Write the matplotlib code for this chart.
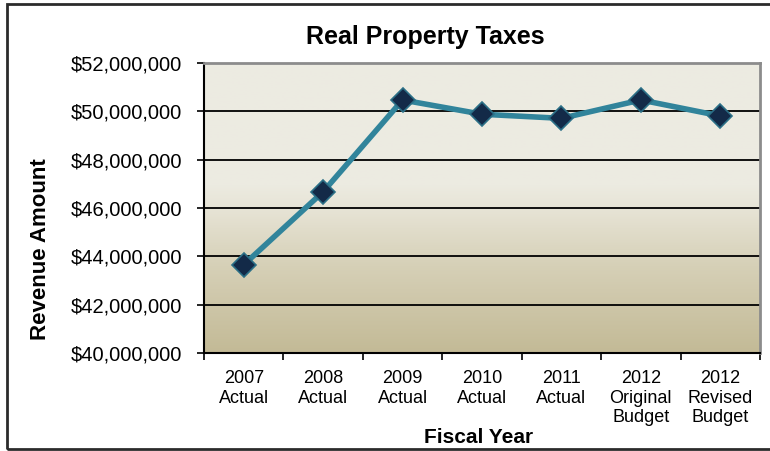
import numpy as np
import matplotlib
matplotlib.use('Agg')
import matplotlib.pyplot as plt
from matplotlib.colors import LinearSegmentedColormap
from matplotlib.patches import Rectangle
from matplotlib.ticker import FuncFormatter, FixedLocator

# fiscal years and revenue collected
categories = ["2007\nActual", "2008\nActual", "2009\nActual", "2010\nActual",
              "2011\nActual", "2012\nOriginal\nBudget", "2012\nRevised\nBudget"]
revenue = [43650000, 46670000, 50470000, 49880000, 49710000, 50470000, 49810000]
y_ticks = [40000000, 42000000, 44000000, 46000000, 48000000, 50000000, 52000000]

plt.rcParams['font.family'] = ['Liberation Sans', 'DejaVu Sans']

fig = plt.figure(figsize=(7.7, 4.51), dpi=100)
fig.patch.set_facecolor('white')
ax = fig.add_axes([0.2649, 0.2173, 0.987 - 0.2649, 0.8603 - 0.2173])

x = np.arange(len(categories))
ax.set_xlim(-0.5, len(categories) - 0.5)
ax.set_ylim(y_ticks[0], y_ticks[-1])

# plot area background: light stone on top fading to tan at the bottom
grad_cmap = LinearSegmentedColormap.from_list(
    "stone", [(0.0, "#c3ba96"), (0.3, "#d6d0b7"), (0.5, "#e7e4d6"),
              (0.58, "#ecebe1"), (1.0, "#edebe2")])
grad = np.linspace(0, 1, 256).reshape(-1, 1)
ax.imshow(grad, cmap=grad_cmap, aspect='auto', origin='lower',
          extent=[-0.5, len(categories) - 0.5, y_ticks[0], y_ticks[-1]], zorder=0)

for t in y_ticks[1:-1]:
    ax.axhline(t, color='black', lw=1.3, zorder=1)

ax.plot(x, revenue, color='#31849b', lw=4, zorder=3, solid_capstyle='round')
ax.plot(x, revenue, linestyle='none', marker='D', ms=12, mfc='#132a48',
        mec='#2b6f86', mew=1.2, zorder=4)

# axis spines
for side in ['top', 'right']:
    ax.spines[side].set_color('#8c8c8c')
    ax.spines[side].set_linewidth(2)
for side in ['left', 'bottom']:
    ax.spines[side].set_color('black')
    ax.spines[side].set_linewidth(1.5)

ax.set_yticks(y_ticks)
ax.yaxis.set_major_formatter(FuncFormatter(lambda v, p: "${:,.0f}".format(v)))
ax.tick_params(axis='y', length=5, width=1.2, labelsize=14.5, pad=11, colors='black')

ax.set_xticks(x)
ax.set_xticklabels(categories, fontsize=13, linespacing=1.22, va='top')
ax.tick_params(axis='x', which='major', length=0, pad=12)
ax.xaxis.set_minor_locator(FixedLocator(np.arange(-0.5, len(categories), 1.0)))
ax.tick_params(axis='x', which='minor', length=5, width=1.2)

fig.text(0.552, 0.918, "Real Property Taxes", ha='center', va='center',
         fontsize=18, fontweight='bold')
fig.text(0.052, 0.448, "Revenue Amount", ha='center', va='center', rotation=90,
         fontsize=16, fontweight='bold')
fig.text(0.621, 0.031, "Fiscal Year", ha='center', va='center',
         fontsize=15, fontweight='bold')

# outer chart border
fig.patches.append(Rectangle((7 / 770, 2 / 451), 1.0, 445 / 451,
                             transform=fig.transFigure, fill=False,
                             edgecolor='#2b2b2b', lw=2, zorder=10))

fig.savefig("out.png", dpi=100)
